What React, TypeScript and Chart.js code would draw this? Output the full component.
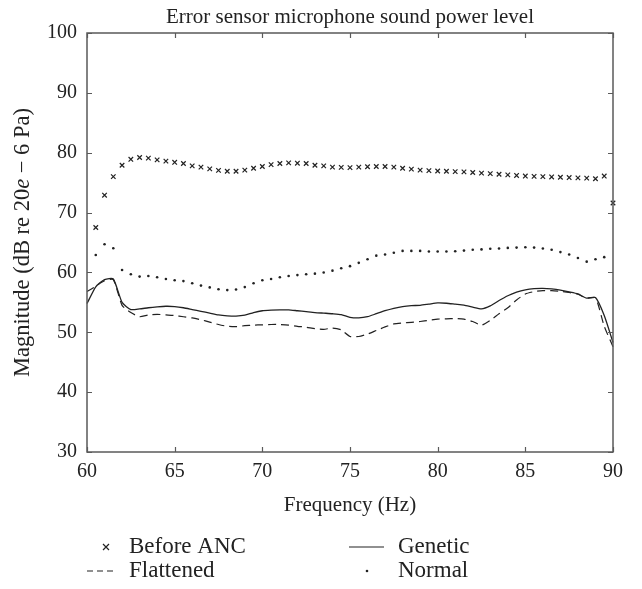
import React, { useEffect, useRef } from "react";
import { Chart, registerables } from "chart.js";
Chart.register(...registerables);

const FONT = "'Liberation Serif', 'Times New Roman', serif";
const INK = "#222";

const freqs = [60, 60.5, 61, 61.5, 62, 62.5, 63, 63.5, 64, 64.5, 65, 65.5, 66, 66.5, 67, 67.5, 68, 68.5, 69, 69.5, 70, 70.5, 71, 71.5, 72, 72.5, 73, 73.5, 74, 74.5, 75, 75.5, 76, 76.5, 77, 77.5, 78, 78.5, 79, 79.5, 80, 80.5, 81, 81.5, 82, 82.5, 83, 83.5, 84, 84.5, 85, 85.5, 86, 86.5, 87, 87.5, 88, 88.5, 89, 89.5, 90];

const beforeANC = [null, 67.5, 72.9, 76.0, 77.9, 78.9, 79.2, 79.1, 78.8, 78.6, 78.4, 78.2, 77.8, 77.6, 77.3, 77.05, 76.9, 76.9, 77.1, 77.4, 77.7, 78.0, 78.2, 78.3, 78.25, 78.2, 77.9, 77.8, 77.6, 77.55, 77.5, 77.6, 77.65, 77.7, 77.7, 77.6, 77.4, 77.25, 77.1, 77.0, 76.95, 76.9, 76.85, 76.8, 76.7, 76.6, 76.5, 76.4, 76.3, 76.2, 76.1, 76.05, 76.0, 75.95, 75.9, 75.85, 75.8, 75.75, 75.65, 76.1, 71.6];

const genetic = [54.8, 57.6, 58.8, 58.9, 55.0, 53.8, 53.9, 54.1, 54.25, 54.35, 54.3, 54.1, 53.8, 53.5, 53.2, 52.9, 52.75, 52.7, 52.85, 53.3, 53.6, 53.7, 53.75, 53.75, 53.6, 53.45, 53.3, 53.2, 53.1, 52.95, 52.5, 52.4, 52.6, 53.1, 53.6, 54.0, 54.3, 54.45, 54.5, 54.7, 54.9, 54.85, 54.7, 54.55, 54.2, 53.9, 54.4, 55.3, 56.1, 56.7, 57.1, 57.3, 57.35, 57.25, 57.05, 56.75, 56.4, 55.7, 55.8, 52.8, 48.3];

const flattened = [56.8, 57.7, 58.6, 58.8, 54.5, 53.3, 52.6, 52.9, 53.0, 52.9, 52.8, 52.6, 52.4, 52.1, 51.7, 51.3, 51.0, 50.95, 51.1, 51.2, 51.25, 51.3, 51.3, 51.2, 51.0, 50.85, 50.6, 50.5, 50.7, 50.4, 49.3, 49.3, 49.7, 50.3, 50.9, 51.4, 51.55, 51.65, 51.8, 52.0, 52.2, 52.25, 52.3, 52.2, 51.8, 51.2, 52.0, 53.1, 54.1, 55.4, 56.4, 56.8, 56.95, 56.95, 56.85, 56.65, 56.35, 55.7, 55.8, 51.0, 47.6];

const normal = [null, 62.9, 64.7, 64.05, 60.4, 59.7, 59.3, 59.4, 59.2, 58.9, 58.7, 58.55, 58.2, 57.8, 57.5, 57.2, 57.05, 57.15, 57.55, 58.2, 58.7, 58.9, 59.2, 59.4, 59.55, 59.7, 59.8, 60.0, 60.3, 60.7, 61.05, 61.6, 62.2, 62.8, 63.0, 63.3, 63.6, 63.6, 63.6, 63.5, 63.5, 63.5, 63.55, 63.65, 63.8, 63.85, 63.95, 64.0, 64.1, 64.15, 64.2, 64.15, 64.0, 63.8, 63.4, 63.0, 62.4, 61.8, 62.2, 62.55, null];

const xTicks = [60, 65, 70, 75, 80, 85, 90];
const yTicks = [30, 40, 50, 60, 70, 80, 90, 100];

const titleText = "Error sensor microphone sound power level";
const xLabel = "Frequency (Hz)";
const yLabelParts: [string, boolean][] = [["Magnitude (dB re 20", false], ["e", true], [" \u2212 6 Pa)", false]];
const seriesLabels = ["Before ANC", "Genetic", "Flattened", "Normal"];

const toPts = (arr: (number | null)[]) => freqs.map((f, i) => ({ x: f, y: arr[i] }));

const decorPlugin = {
  id: "decor",
  afterDraw(chart: any) {
    const ctx = chart.ctx as CanvasRenderingContext2D;
    const { left, right, top, bottom } = chart.chartArea;
    const xs = chart.scales.x;
    const ys = chart.scales.y;
    ctx.save();
    // frame
    ctx.strokeStyle = "#5a5a5a";
    ctx.lineWidth = 1.5;
    ctx.setLineDash([]);
    ctx.strokeRect(left, top, right - left, bottom - top);
    // inward ticks
    ctx.lineWidth = 1.2;
    ctx.beginPath();
    xTicks.forEach((v) => {
      const px = Math.round(xs.getPixelForValue(v)) + 0.5;
      ctx.moveTo(px, bottom); ctx.lineTo(px, bottom - 5);
      ctx.moveTo(px, top); ctx.lineTo(px, top + 5);
    });
    yTicks.forEach((v) => {
      const py = Math.round(ys.getPixelForValue(v)) + 0.5;
      ctx.moveTo(left, py); ctx.lineTo(left + 5, py);
      ctx.moveTo(right, py); ctx.lineTo(right - 5, py);
    });
    ctx.stroke();

    const cx = (left + right) / 2;
    ctx.fillStyle = INK;
    // title
    ctx.font = `21px ${FONT}`;
    ctx.textAlign = "center";
    ctx.textBaseline = "alphabetic";
    ctx.fillText(titleText, cx, 23);
    // x label
    ctx.fillText(xLabel, cx, 511);
    // y label (rotated, with italic e)
    ctx.save();
    ctx.translate(29, (top + bottom) / 2);
    ctx.rotate(-Math.PI / 2);
    const ySize = 22.5;
    const widths = yLabelParts.map(([t, it]) => {
      ctx.font = `${it ? "italic " : ""}${ySize}px ${FONT}`;
      return ctx.measureText(t).width;
    });
    const total = widths.reduce((a, b) => a + b, 0);
    let xx = -total / 2;
    ctx.textAlign = "left";
    yLabelParts.forEach(([t, it], i) => {
      ctx.font = `${it ? "italic " : ""}${ySize}px ${FONT}`;
      ctx.fillText(t, xx, 0);
      xx += widths[i];
    });
    ctx.restore();

    // legend
    const ds = chart.data.datasets;
    const row1 = 553, row2 = 577;
    const midOff = -6;
    ctx.font = `23px ${FONT}`;
    ctx.textAlign = "left";
    ctx.strokeStyle = INK;
    ctx.fillStyle = INK;
    // Before ANC: cross
    ctx.lineWidth = 1.2;
    ctx.beginPath();
    const cxr = 106, cyr = row1 + midOff, r = 3;
    ctx.moveTo(cxr - r, cyr - r); ctx.lineTo(cxr + r, cyr + r);
    ctx.moveTo(cxr + r, cyr - r); ctx.lineTo(cxr - r, cyr + r);
    ctx.stroke();
    ctx.fillText(ds[0].label, 129, row1);
    // Flattened: dashed
    ctx.lineWidth = 1.2;
    ctx.setLineDash([6, 4]);
    ctx.beginPath();
    ctx.moveTo(87, row2 + midOff); ctx.lineTo(113, row2 + midOff);
    ctx.stroke();
    ctx.setLineDash([]);
    ctx.fillText(ds[2].label, 129, row2);
    // Genetic: solid
    ctx.beginPath();
    ctx.moveTo(349, row1 + midOff); ctx.lineTo(384, row1 + midOff);
    ctx.stroke();
    ctx.fillText(ds[1].label, 398, row1);
    // Normal: dot
    ctx.beginPath();
    ctx.arc(367, row2 + midOff, 1.3, 0, Math.PI * 2);
    ctx.fill();
    ctx.fillText(ds[3].label, 398, row2);
    ctx.restore();
  },
};

export default function App() {
  const ref = useRef<HTMLCanvasElement>(null);
  useEffect(() => {
    if (!ref.current) return;
    const chart = new Chart(ref.current, {
      type: "line",
      data: {
        datasets: [
          {
            label: seriesLabels[0],
            data: toPts(beforeANC) as any,
            showLine: false,
            pointStyle: "crossRot",
            pointRadius: 3.2,
            pointBorderWidth: 1.2,
            borderColor: INK,
            backgroundColor: INK,
            clip: false as any,
          },
          {
            label: seriesLabels[1],
            data: toPts(genetic) as any,
            borderColor: INK,
            borderWidth: 1.3,
            pointRadius: 0,
            tension: 0.2,
            clip: false as any,
          },
          {
            label: seriesLabels[2],
            data: toPts(flattened) as any,
            borderColor: INK,
            borderWidth: 1.2,
            borderDash: [8, 5],
            pointRadius: 0,
            tension: 0.2,
            clip: false as any,
          },
          {
            label: seriesLabels[3],
            data: toPts(normal) as any,
            showLine: false,
            pointStyle: "circle",
            pointRadius: 1.3,
            pointBorderWidth: 0,
            borderColor: INK,
            backgroundColor: INK,
            clip: false as any,
          },
        ],
      },
      options: {
        animation: false,
        responsive: false,
        devicePixelRatio: 1,
        layout: { padding: { top: 33, right: 29, left: 0, bottom: 0 } },
        plugins: { legend: { display: false }, title: { display: false }, tooltip: { enabled: false } },
        scales: {
          x: {
            type: "linear",
            min: 60,
            max: 90,
            ticks: { stepSize: 5, color: INK, font: { family: FONT, size: 20 }, padding: 8, maxRotation: 0 },
            grid: { display: false, drawTicks: false },
            border: { display: false },
            afterFit: (s: any) => { s.height = 137; },
          },
          y: {
            type: "linear",
            min: 30,
            max: 100,
            ticks: { stepSize: 10, color: INK, font: { family: FONT, size: 20 }, padding: 10 },
            grid: { display: false, drawTicks: false },
            border: { display: false },
            afterFit: (s: any) => { s.width = 87; },
          },
        },
      },
      plugins: [decorPlugin],
    });
    return () => chart.destroy();
  }, []);
  return (
    <div style={{ position: "fixed", left: 0, top: 0, width: 642, height: 589, background: "#fff" }}>
      <canvas ref={ref} width={642} height={589} style={{ width: 642, height: 589, display: "block" }} />
    </div>
  );
}
